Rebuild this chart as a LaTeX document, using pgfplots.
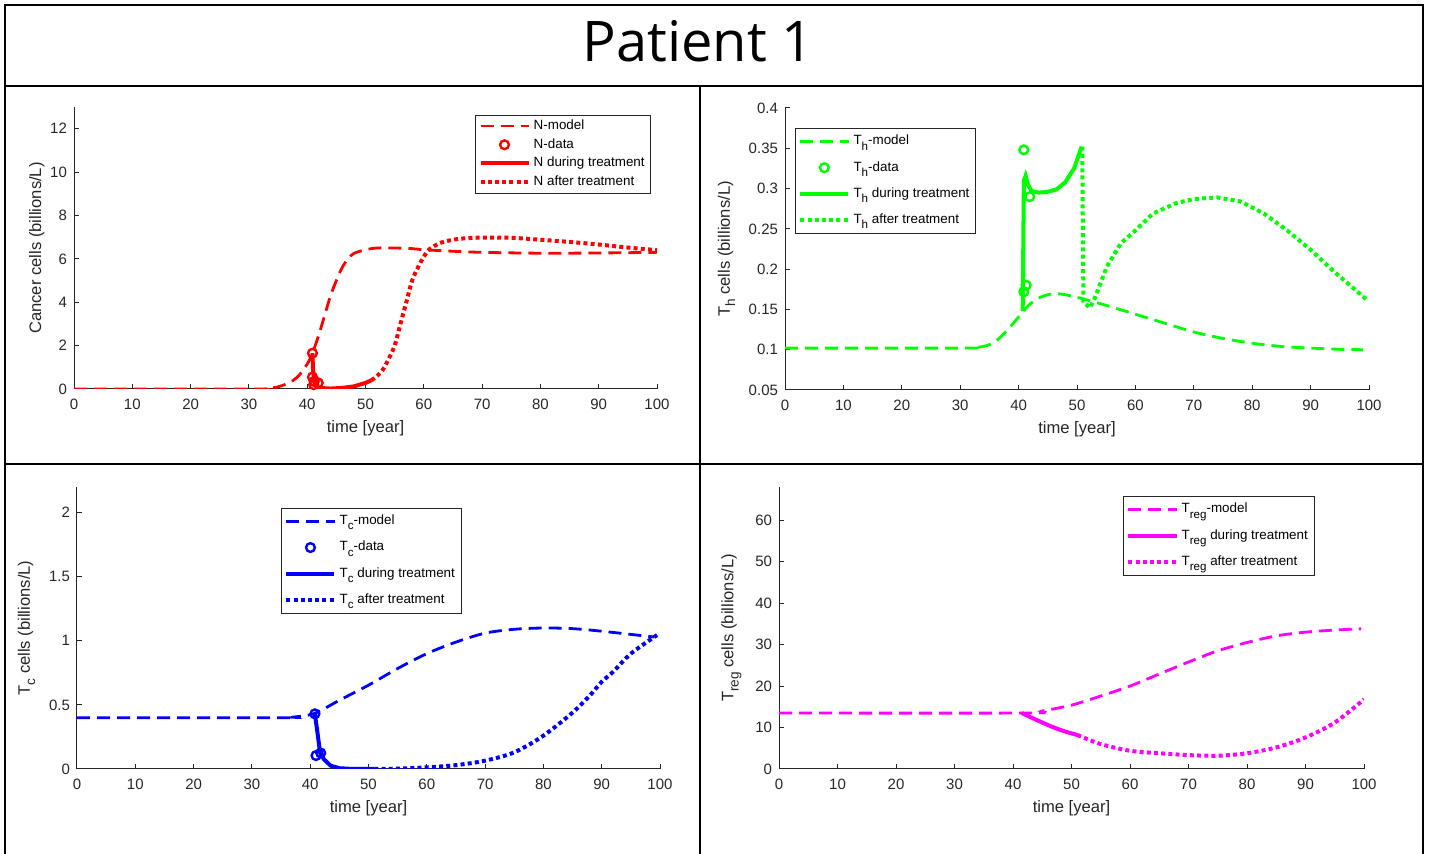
\documentclass[border=0pt]{standalone}
\usepackage{fontspec}
\setmainfont{Liberation Sans}
\newfontfamily\titlefont{Open Sans}
\usepackage{pgfplots}
\pgfplotsset{compat=1.18}
\definecolor{axgray}{rgb}{0.15,0.15,0.15}
\definecolor{cR}{rgb}{1,0,0}
\definecolor{cG}{rgb}{0,1,0}
\definecolor{cB}{rgb}{0,0,1}
\definecolor{cM}{rgb}{1,0,1}
\newcommand\sub[1]{\raisebox{-0.75ex}{\fontsize{5.8}{6}\selectfont #1}}
\newcommand\subl[1]{\raisebox{-0.6ex}{\fontsize{6.8}{7}\selectfont #1}}
\pgfplotsset{
 mystyle/.style={
  scale only axis, height=141pt,
  axis lines*=left, xmin=0, xmax=100, xtick={0,10,...,100},
  tick align=inside, major tick length=2.5pt,
  axis line style={axgray, line width=0.5pt},
  every tick/.style={axgray, line width=0.5pt},
  tick label style={font=\fontsize{7.5}{9}\selectfont, text=axgray},
  xticklabel shift=1.5pt,
  label style={font=\fontsize{8.3}{10}\selectfont, text=axgray},
  xlabel={time [year]}, xlabel shift=-1.5pt,
  /pgf/number format/assume math mode=true,
  legend cell align=left,
  legend style={draw=axgray, line width=0.4pt, font=\fontsize{6.7}{8}\selectfont, anchor=north west, inner xsep=1.5pt, inner ysep=1.5pt, row sep=1.6pt,
    nodes={inner xsep=1.6pt, inner ysep=0.7pt}},
  legend image code/.code={\draw[mark repeat=2,mark phase=2,##1] plot coordinates {(0pt,0pt) (12pt,0pt) (24pt,0pt)};},
 },
 subleg/.style={legend style={row sep=5.4pt, inner ysep=2.6pt}},
 model/.style={dash pattern=on 6.5pt off 3.5pt, line width=1.4pt},
 during/.style={solid, line width=2pt},
 after/.style={dash pattern=on 2pt off 1.6pt, line width=2pt},
 datam/.style={only marks, mark=o, mark size=2.2pt, mark options={line width=1.2pt, solid}},
}
\begin{document}
\begin{tikzpicture}
\path[use as bounding box] (0,0) rectangle (714.5pt,-427pt);
% frame
\draw[line width=1.2pt] (2.5pt,-430pt) -- (2.5pt,-2.5pt) -- (711.5pt,-2.5pt) -- (711.5pt,-430pt);
\draw[line width=1.3pt] (2.5pt,-43pt) -- (711.5pt,-43pt);
\draw[line width=1.3pt] (2.5pt,-232pt) -- (711.5pt,-232pt);
\draw[line width=1.3pt] (350pt,-43pt) -- (350pt,-430pt);
\node[anchor=base, inner sep=0pt] at (349pt,-30.9pt) {\titlefont\fontsize{28}{32}\selectfont Patient 1};

% Panel 1: N
\begin{axis}[mystyle, at={(37pt,-194.5pt)}, anchor=south west, width=291.5pt,
  ymin=0, ymax=13, ytick={0,2,...,12},
  ylabel={Cancer cells (billions/L)}, ylabel shift=-4pt,
  legend style={at={(0.688,0.972)}}]
\addplot[cR, model, smooth] coordinates {(0,0) (30,0) (33,0.02) (35,0.1) (37,0.3) (38.5,0.6) (40,1.15) (40.9,1.65) (42,2.5) (43,3.4) (44,4.3) (45,5.0) (46,5.6) (47,6.0) (48,6.25) (50,6.42) (52,6.5) (55,6.5) (58,6.47) (60,6.42) (65,6.35) (70,6.3) (80,6.26) (90,6.27) (100,6.3)};
\addlegendentry{N-model}
\addplot[cR, datam] coordinates {(40.9,1.65) (40.9,0.55) (41.2,0.35) (41.9,0.28) (41.1,0.2)};
\addlegendentry{N-data}
\addplot[cR, during] coordinates {(40.9,1.65) (41.0,0.9) (41.2,0.4) (41.5,0.15) (42,0.05) (44,0.02) (46,0.05) (48,0.12) (50,0.28) (51,0.4)};
\addlegendentry{N during treatment}
\addplot[cR, after, smooth] coordinates {(51,0.4) (52,0.6) (53,0.9) (54,1.4) (55,2.0) (56,3.0) (57,4.0) (58,5.0) (59,5.6) (60,6.1) (61,6.45) (63,6.75) (66,6.92) (70,6.98) (75,6.97) (80,6.88) (85,6.78) (90,6.66) (95,6.52) (100,6.4)};
\addlegendentry{N after treatment}
\end{axis}

% Panel 2: Th
\begin{axis}[mystyle, subleg, at={(392.5pt,-195pt)}, anchor=south west, width=292pt,
  ymin=0.05, ymax=0.4, ytick={0.05,0.1,...,0.41},
  yticklabel style={/pgf/number format/fixed, /pgf/number format/precision=2},
  ylabel={T\subl{h} cells (billions/L)},
  legend style={at={(0.017,0.929)}}]
\addplot[cG, model, smooth] coordinates {(0,0.102) (31,0.102) (33,0.103) (34.5,0.105) (36,0.11) (37.5,0.12) (39,0.132) (40.5,0.145) (42,0.157) (44,0.166) (46.5,0.1696) (50,0.165) (55,0.155) (60,0.144) (65,0.133) (70,0.122) (75,0.114) (80,0.108) (85,0.104) (90,0.102) (95,0.1005) (99,0.1)};
\addlegendentry{T\sub{h}-model}
\addplot[cG, datam] coordinates {(40.9,0.348) (41.9,0.29) (41.3,0.18) (40.9,0.172)};
\addlegendentry{T\sub{h}-data}
\addplot[cG, during] coordinates {(40.7,0.148) (40.8,0.23) (40.9,0.31) (41.2,0.316) (41.6,0.305) (42.2,0.297) (43.5,0.295) (45,0.296) (46.5,0.299) (48,0.308) (49.5,0.325) (50.8,0.352)};
\addlegendentry{T\sub{h} during treatment}
\addplot[cG, after] coordinates {(50.9,0.352) (51,0.25) (51.1,0.16) (52.2,0.152) (53.1,0.165) (55.1,0.203) (57.5,0.232) (60,0.248) (63,0.269) (67,0.282) (70,0.287) (74,0.289) (78,0.284) (82,0.269) (86,0.248) (90,0.224) (94,0.197) (99.8,0.161)};
\addlegendentry{T\sub{h} after treatment}
\end{axis}

% Panel 3: Tc
\begin{axis}[mystyle, subleg, at={(38.5pt,-384.5pt)}, anchor=south west, width=291.5pt,
  ymin=0, ymax=2.2, ytick={0,0.5,1,1.5,2},
  yticklabel style={/pgf/number format/fixed, /pgf/number format/precision=1},
  ylabel={T\subl{c} cells (billions/L)},
  legend style={at={(0.35,0.926)}}]
\addplot[cB, model, smooth] coordinates {(0,0.4) (35,0.4) (37,0.405) (39,0.415) (40.5,0.43) (42,0.46) (45,0.536) (50,0.654) (55,0.784) (60,0.90) (65,0.99) (70,1.06) (75,1.09) (80,1.10) (85,1.095) (90,1.075) (95,1.05) (99,1.03)};
\addlegendentry{T\sub{c}-model}
\addplot[cB, datam] coordinates {(40.8,0.43) (41.0,0.105) (41.8,0.125)};
\addlegendentry{T\sub{c}-data}
\addplot[cB, during] coordinates {(40.8,0.43) (41.2,0.3) (41.6,0.16) (42.3,0.078) (43.5,0.026) (45,0.006) (47,0.001) (51,0)};
\addlegendentry{T\sub{c} during treatment}
\addplot[cB, after, smooth] coordinates {(51,0) (55,0.003) (60,0.013) (65,0.03) (70,0.065) (75,0.13) (80,0.26) (85,0.44) (88,0.575) (90,0.68) (92,0.76) (95,0.90) (99.5,1.045)};
\addlegendentry{T\sub{c} after treatment}
\end{axis}

% Panel 4: Treg
\begin{axis}[mystyle, subleg, at={(389.5pt,-384.5pt)}, anchor=south west, width=292.5pt,
  ymin=0, ymax=68, ytick={0,10,...,60},
  ylabel={T\subl{reg} cells (billions/L)},
  legend style={at={(0.588,0.968)}}]
\addplot[cM, model, smooth] coordinates {(0,13.5) (42,13.5) (45,14.0) (50,15.4) (55,17.6) (60,20.0) (65,22.9) (70,25.8) (75,28.5) (80,30.5) (85,32.1) (90,33.0) (95,33.5) (99.5,33.8)};
\addlegendentry{T\sub{reg}-model}
\addplot[cM, during, smooth] coordinates {(41.5,13.5) (43,12.5) (45,11.2) (47,10.0) (49,9.0) (51,8.2)};
\addlegendentry{T\sub{reg} during treatment}
\addplot[cM, after, smooth] coordinates {(51,8.2) (55,6.0) (60,4.4) (65,3.8) (70,3.35) (75,3.2) (80,3.8) (85,5.2) (90,7.6) (95,11.2) (100,16.8)};
\addlegendentry{T\sub{reg} after treatment}
\end{axis}
\end{tikzpicture}
\end{document}
